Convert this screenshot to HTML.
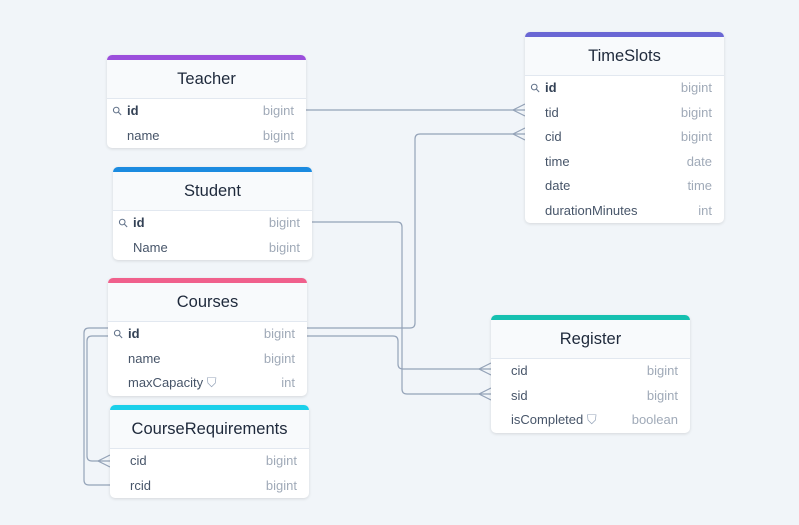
<!DOCTYPE html>
<html><head><meta charset="utf-8"><style>
body{margin:0;width:799px;height:525px;background:#f1f5f9;font-family:"Liberation Sans",sans-serif;position:relative;overflow:hidden}
.t{position:absolute;width:199px;background:#fff;border-radius:5px;box-shadow:0 1px 3px rgba(0,0,0,.12);overflow:hidden}
.bar{height:5px}
.h{height:38px;line-height:39px;text-align:center;font-size:16.5px;color:#1e293b;background:#f8fafc;border-bottom:1px solid #e2e8f0}
.r{height:24.5px;line-height:24.5px;font-size:13px;color:#475569;padding:0 12px 0 20px;position:relative}
.r .ty{position:absolute;right:12px;color:#a0aab8}
.k{font-weight:bold;color:#334155}
.k:before{content:"⚲";position:absolute;left:6px;font-weight:normal;color:#64748b;font-size:12px;transform:rotate(-45deg)}
svg{position:absolute;left:0;top:0}
</style></head><body>
<svg width="799" height="525" fill="none" stroke="#94a3b8" stroke-width="1.2">
<path d="M306 110H525"/>
<path d="M307 328H410q5 0 5-5V139q0-5 5-5H525"/>
<path d="M307 336H393q5 0 5 5V364q0 5 5 5H491"/>
<path d="M312 222H397q5 0 5 5V389q0 5 5 5H491"/>
<path d="M108 328H89q-5 0-5 5V480q0 5 5 5H110"/>
<path d="M108 336H92q-5 0-5 5V456q0 5 5 5H110"/>
<path d="M525 104L513 110L525 116M525 128L513 134L525 140M491 363L479 369L491 375M491 388L479 394L491 400M110 455L98 461L110 467"/>
</svg>
<div class="t" style="left:107px;top:55px"><div class="bar" style="background:#9b4fdc"></div><div class="h">Teacher</div>
<div class="r k">id<span class="ty" style="font-weight:normal">bigint</span></div><div class="r">name<span class="ty">bigint</span></div></div>
<div class="t" style="left:113px;top:167px"><div class="bar" style="background:#1b8be0"></div><div class="h">Student</div>
<div class="r k">id<span class="ty" style="font-weight:normal">bigint</span></div><div class="r">Name<span class="ty">bigint</span></div></div>
<div class="t" style="left:108px;top:278px"><div class="bar" style="background:#f0608c"></div><div class="h">Courses</div>
<div class="r k">id<span class="ty" style="font-weight:normal">bigint</span></div><div class="r">name<span class="ty">bigint</span></div><div class="r">maxCapacity <span style="color:#94a3b8">⛉</span><span class="ty">int</span></div></div>
<div class="t" style="left:110px;top:405px"><div class="bar" style="background:#1bd0ea"></div><div class="h">CourseRequirements</div>
<div class="r">cid<span class="ty">bigint</span></div><div class="r">rcid<span class="ty">bigint</span></div></div>
<div class="t" style="left:525px;top:32px"><div class="bar" style="background:#6a67d4"></div><div class="h">TimeSlots</div>
<div class="r k">id<span class="ty" style="font-weight:normal">bigint</span></div><div class="r">tid<span class="ty">bigint</span></div><div class="r">cid<span class="ty">bigint</span></div><div class="r">time<span class="ty">date</span></div><div class="r">date<span class="ty">time</span></div><div class="r">durationMinutes<span class="ty">int</span></div></div>
<div class="t" style="left:491px;top:315px"><div class="bar" style="background:#15c0b0"></div><div class="h">Register</div>
<div class="r">cid<span class="ty">bigint</span></div><div class="r">sid<span class="ty">bigint</span></div><div class="r">isCompleted <span style="color:#94a3b8">⛉</span><span class="ty">boolean</span></div></div>
</body></html>
